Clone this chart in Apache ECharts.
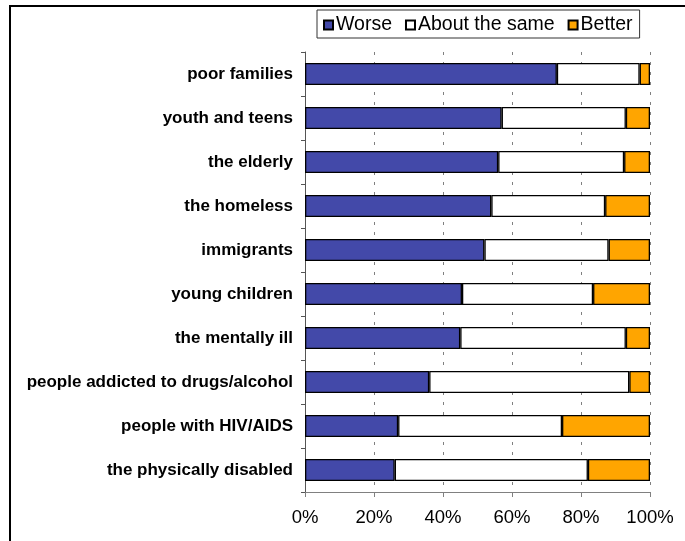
<!DOCTYPE html>
<html>
<head>
<meta charset="utf-8">
<script src="https://cdn.jsdelivr.net/npm/echarts@6/dist/echarts.min.js"></script>
<style>
html,body{margin:0;padding:0;background:#fff;}
#chart{width:685px;height:541px;}
</style>
</head>
<body>
<div id="chart"></div>
<script>
const categories = ['poor families','youth and teens','the elderly','the homeless','immigrants','young children','the mentally ill','people addicted to drugs/alcohol','people with HIV/AIDS','the physically disabled'];
const worse  = [73, 57, 56,   54, 52, 45.5, 45, 36, 27,   26];
const same   = [24, 36, 36.5, 33, 36, 38,   48, 58, 47.5, 56];
const better = [3,  7,  7.5,  13, 12, 16.5, 7,  6,  25.5, 18];
const seriesNames = ['Worse', 'About the same', 'Better'];
const xTicks = [0, 20, 40, 60, 80, 100];

const FONT = '"Liberation Sans", Arial, sans-serif';
const chart = echarts.init(document.getElementById('chart'), null, {renderer: 'canvas'});

function barSeries(name, data, color) {
  return {
    name: name,
    type: 'bar',
    stack: 'total',
    data: data,
    barWidth: 22,
    itemStyle: {color: color, borderColor: '#000', borderWidth: 1.3},
    emphasis: {disabled: true},
    animation: false
  };
}

chart.setOption({
  animation: false,
  backgroundColor: '#fff',
  textStyle: {fontFamily: FONT},
  graphic: [{
    type: 'rect',
    z: -10,
    shape: {x: 10, y: 6, width: 700, height: 600},
    style: {fill: 'none', stroke: '#000', lineWidth: 2}
  }],
  legend: {
    data: seriesNames,
    left: 317,
    top: 10,
    padding: [5, 7, 3, 6],
    itemGap: 13,
    itemWidth: 9,
    itemHeight: 9,
    borderColor: '#333',
    borderWidth: 1,
    icon: 'rect',
    textStyle: {fontFamily: FONT, fontSize: 19.5, color: '#000', padding: [0, 0, 0, -2], lineHeight: 20},
    selectedMode: false
  },
  grid: {left: 305, right: 35, top: 52, bottom: 49, containLabel: false},
  xAxis: {
    type: 'value',
    min: xTicks[0],
    max: xTicks[xTicks.length - 1],
    interval: 20,
    axisLine: {show: true, lineStyle: {color: '#808080', width: 1}},
    axisTick: {show: true, length: 5, lineStyle: {color: '#808080'}},
    axisLabel: {
      formatter: '{value}%',
      fontFamily: FONT, fontSize: 18.5, color: '#000', margin: 16
    },
    splitLine: {show: true, lineStyle: {color: '#808080', type: [3, 7], width: 1}}
  },
  yAxis: {
    type: 'category',
    data: categories,
    inverse: true,
    axisLine: {show: true, lineStyle: {color: '#555', width: 1}},
    axisTick: {show: true, length: 4, lineStyle: {color: '#555'}},
    axisLabel: {fontFamily: FONT, fontSize: 17, fontWeight: 'bold', color: '#000', margin: 12}
  },
  series: [
    barSeries(seriesNames[0], worse, '#4349A9'),
    barSeries(seriesNames[1], same, '#FFFFFF'),
    barSeries(seriesNames[2], better, '#FFA500')
  ]
});
</script>
</body>
</html>
